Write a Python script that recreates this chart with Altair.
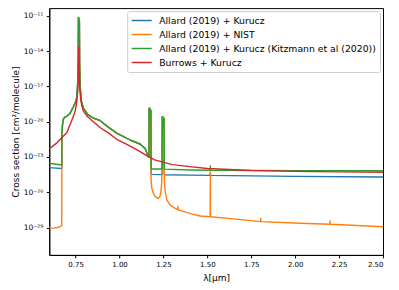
import altair as alt
import pandas as pd

series_names = [
    "Allard (2019) + Kurucz",
    "Allard (2019) + NIST",
    "Allard (2019) + Kurucz (Kitzmann et al (2020))",
    "Burrows + Kurucz",
]
colors = ["#1f77b4", "#ff7f0e", "#2ca02c", "#d62728"]

# log10 cross-section values
# shared K-resonance core region (0.672 - 1.1785 um) for the Allard tables
core_wl = [0.672, 0.675, 0.680, 0.689, 0.700, 0.718, 0.737, 0.750, 0.756, 0.760,
           0.763, 0.765, 0.766, 0.768, 0.769, 0.770, 0.7715, 0.773, 0.776, 0.782,
           0.794, 0.820, 0.851, 0.889, 0.930, 0.984, 1.020, 1.060, 1.117, 1.145,
           1.164, 1.1675, 1.1685, 1.171, 1.174, 1.177, 1.1785]
core_log = [-21.5, -20.3, -19.8, -19.6, -19.55, -19.3, -18.75, -18.3, -18.0, -17.3,
            -16.3, -14.5, -11.14, -11.2, -13.5, -11.37, -11.4, -15.0, -17.0, -18.2,
            -18.85, -19.4, -19.7, -19.9, -20.4, -20.97, -21.25, -21.56, -21.9, -22.27,
            -22.98, -23.0, -18.9, -18.84, -19.6, -19.0, -19.1]
# 1.25 um doublet
jl_wl = [1.2435, 1.246, 1.249, 1.252, 1.2535]
jl_log = [-19.58, -19.6, -20.4, -19.7, -19.8]

blue_left_wl = [0.600, 0.640, 0.671]
blue_left_log = [-23.91, -23.95, -23.98]
blue_mid_wl = [1.180, 1.242]
blue_mid_log = [-24.48, -24.5]
blue_right_wl = [1.255, 1.400, 1.516, 1.517, 1.518, 2.000, 2.500]
blue_right_log = [-24.52, -24.55, -24.57, -24.3, -24.57, -24.65, -24.70]

orange_left_wl = [0.600, 0.610, 0.625, 0.645, 0.660, 0.671]
orange_left_log = [-28.95, -29.03, -29.05, -29.0, -28.95, -28.85]
orange_mid_wl = [1.1795, 1.183, 1.190, 1.200, 1.210, 1.221, 1.230, 1.236, 1.240, 1.242]
orange_mid_log = [-25.0, -25.6, -26.0, -26.3, -26.45, -26.51, -26.35, -25.9, -25.2, -24.3]
orange_right_wl = [1.255, 1.260, 1.269, 1.287, 1.316, 1.332, 1.333, 1.334, 1.400, 1.458,
                   1.516, 1.517, 1.518, 1.648, 1.803, 1.804, 1.805, 2.028, 2.198, 2.199,
                   2.200, 2.500]
orange_right_log = [-25.0, -25.9, -26.66, -27.08, -27.36, -27.5, -27.2, -27.5, -27.8, -28.02,
                    -28.08, -24.3, -28.08, -28.27, -28.5, -28.21, -28.5, -28.64, -28.72, -28.44,
                    -28.72, -28.93]

green_left_wl = [0.600, 0.640, 0.671]
green_left_log = [-23.54, -23.62, -23.68]
green_mid_wl = [1.180, 1.242]
green_mid_log = [-24.02, -24.03]
green_right_wl = [1.255, 1.400, 1.516, 1.517, 1.518, 2.000, 2.500]
green_right_log = [-24.04, -24.11, -24.13, -23.77, -24.13, -24.16, -24.17]

red_wl = [0.600, 0.640, 0.675, 0.700, 0.725, 0.746, 0.756, 0.762, 0.765, 0.767,
          0.768, 0.769, 0.771, 0.774, 0.779, 0.786, 0.794, 0.820, 0.851, 0.889,
          0.940, 0.984, 1.050, 1.100, 1.150, 1.200, 1.300, 1.400, 1.500, 1.750,
          2.000, 2.250, 2.500]
red_log = [-22.3, -21.85, -21.3, -20.95, -20.0, -19.2, -18.4, -17.4, -16.3, -14.5,
           -13.63, -14.5, -16.3, -17.3, -18.1, -18.7, -19.1, -19.6, -20.0, -20.5,
           -21.0, -21.5, -22.0, -22.4, -22.85, -23.25, -23.65, -23.82, -23.98, -24.15,
           -24.23, -24.27, -24.30]

x_ticks = [0.75, 1.00, 1.25, 1.50, 1.75, 2.00, 2.25, 2.50]
y_ticks = [-29, -26, -23, -20, -17, -14, -11]
y_tick_labels = ["10⁻²⁹", "10⁻²⁶", "10⁻²³", "10⁻²⁰", "10⁻¹⁷", "10⁻¹⁴", "10⁻¹¹"]

series_wl = [
    blue_left_wl + core_wl + blue_mid_wl + jl_wl + blue_right_wl,
    orange_left_wl + core_wl + orange_mid_wl + jl_wl + orange_right_wl,
    green_left_wl + core_wl + green_mid_wl + jl_wl + green_right_wl,
    red_wl,
]
series_log = [
    blue_left_log + core_log + blue_mid_log + jl_log + blue_right_log,
    orange_left_log + core_log + orange_mid_log + jl_log + orange_right_log,
    green_left_log + core_log + green_mid_log + jl_log + green_right_log,
    red_log,
]

rows = []
for name, wls, lgs in zip(series_names, series_wl, series_log):
    for i, (w, l) in enumerate(zip(wls, lgs)):
        rows.append({"series": name, "wl": w, "lg": l, "idx": i})
df = pd.DataFrame(rows)

label_expr = " : ".join(
    f"datum.value == {v} ? '{t}'" for v, t in zip(y_ticks, y_tick_labels)
) + " : ''"

FONT = "DejaVu Sans"

color = alt.Color(
    "series:N",
    scale=alt.Scale(domain=series_names, range=colors),
    legend=alt.Legend(
        title=None, orient="none", legendX=78, legendY=3,
        symbolType="stroke", symbolSize=400, symbolStrokeWidth=1.5,
        labelFontSize=9.3, labelFont=FONT, labelColor="black",
        labelOffset=6.5, labelLimit=400,
        padding=3.5, rowPadding=2, clipHeight=11.9,
        strokeColor="#cccccc", fillColor="white", cornerRadius=2,
    ),
)

x = alt.X(
    "wl:Q",
    scale=alt.Scale(domain=[0.6, 2.5], nice=False, zero=False),
    axis=alt.Axis(
        values=x_ticks, format=".2f", title="λ[μm]", grid=False,
        labelFont=FONT, labelFontSize=7, labelColor="black", labelPadding=2.5,
        tickSize=3, tickColor="black", domainColor="black",
        titleFont=FONT, titleFontSize=9, titleFontWeight="normal", titleColor="black",
        titlePadding=6,
    ),
)
y = alt.Y(
    "lg:Q",
    scale=alt.Scale(domain=[-31.33, -10.346], nice=False, zero=False),
    axis=alt.Axis(
        values=y_ticks, labelExpr=label_expr, title="Cross section [cm²/molecule]", grid=False,
        labelFont=FONT, labelFontSize=7.5, labelColor="black", labelPadding=3.5,
        tickSize=3, tickColor="black", domainColor="black",
        titleFont=FONT, titleFontSize=9, titleFontWeight="normal", titleColor="black",
        titlePadding=3,
    ),
)

base = alt.Chart(df)
layers = [
    base.transform_filter(alt.datum.series == name)
    .mark_line(strokeWidth=1.4, strokeJoin="round", clip=True)
    .encode(x=x, y=y, color=color, order="idx:Q")
    for name in series_names
]

chart = (
    alt.layer(*layers)
    .properties(width=334, height=247, autosize=alt.AutoSizeParams(type="none"),
                padding={"left": 41.3, "top": 0, "right": 8, "bottom": 30})
    .configure_view(stroke="black", strokeWidth=1)
)

chart.save("out.html", embed_options={"renderer": "svg", "actions": False})
